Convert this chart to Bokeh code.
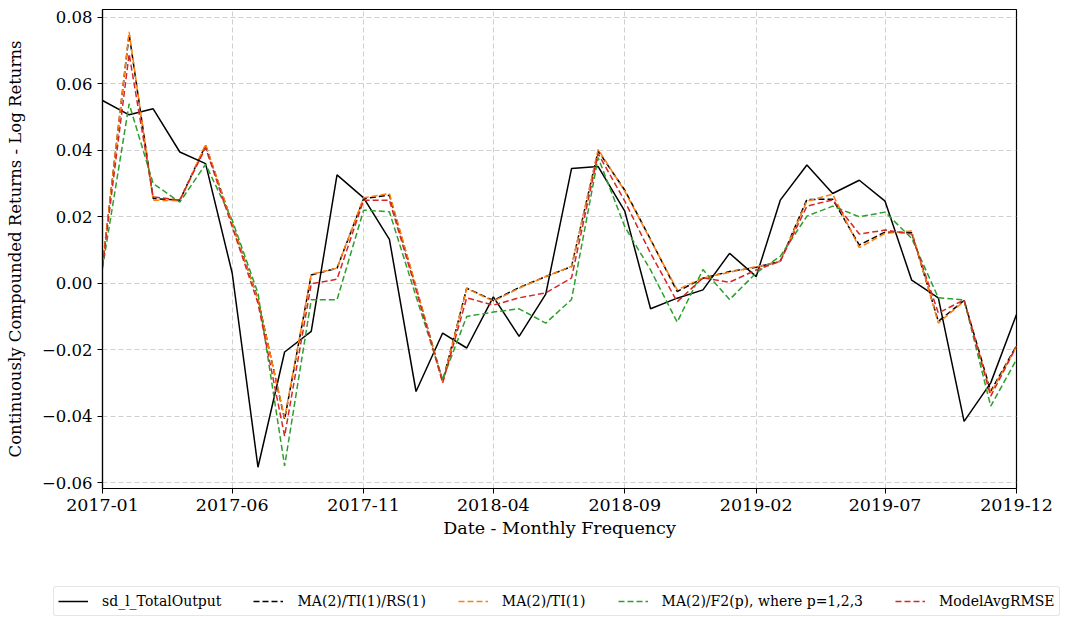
import pandas as pd
from bokeh.plotting import figure
from bokeh.layouts import column
from bokeh.models import (Range1d, FixedTicker, DatetimeTickFormatter, CustomJSTickFormatter,
                          Legend, LegendItem)
from bokeh.embed import file_html
from bokeh.resources import INLINE

# ---------------- data ----------------
months = pd.date_range("2017-01-01", periods=36, freq="MS")
x_tick_labels = ["2017-01", "2017-06", "2017-11", "2018-04", "2018-09", "2019-02", "2019-07", "2019-12"]
y_ticks = [-0.06, -0.04, -0.02, 0.0, 0.02, 0.04, 0.06, 0.08]

sd_l_total_output = [0.055, 0.0507, 0.0525, 0.0395, 0.036, 0.003, -0.0554, -0.0207, -0.0145, 0.0326,
                     0.0257, 0.0132, -0.0326, -0.015, -0.0195, -0.0041, -0.016, -0.0033, 0.0345, 0.0351,
                     0.0217, -0.0077, -0.0045, -0.002, 0.009, 0.002, 0.025, 0.0356, 0.027, 0.031,
                     0.0247, 0.0009, -0.0044, -0.0416, -0.030, -0.0094]

ma2_ti1_rs1 = [0.0055, 0.075, 0.0255, 0.025, 0.0415, 0.018, -0.0048, -0.041, 0.0025, 0.0045,
               0.0255, 0.0265, -0.0012, -0.0295, -0.0015, -0.0052, -0.0013, 0.002, 0.005, 0.0398,
               0.028, 0.0132, -0.0025, 0.0015, 0.0035, 0.0048, 0.0066, 0.0252, 0.0253, 0.0115,
               0.0154, 0.0152, -0.0115, -0.0052, -0.0325, -0.0188]

ma2_ti1 = [0.0055, 0.0757, 0.025, 0.0248, 0.0418, 0.018, -0.005, -0.0406, 0.0027, 0.0045,
           0.0257, 0.027, -0.001, -0.0298, -0.0016, -0.0054, -0.0015, 0.002, 0.0051, 0.0403,
           0.0277, 0.013, -0.002, 0.0016, 0.0033, 0.005, 0.0066, 0.0247, 0.0268, 0.0107,
           0.015, 0.0157, -0.012, -0.0054, -0.033, -0.019]

ma2_f2p = [0.0045, 0.054, 0.030, 0.0244, 0.0358, 0.019, -0.003, -0.055, -0.005, -0.005,
           0.022, 0.0215, -0.004, -0.029, -0.010, -0.0087, -0.0077, -0.012, -0.0049, 0.0378,
           0.017, 0.004, -0.0117, 0.0041, -0.0049, 0.0031, 0.0081, 0.0202, 0.0232, 0.020,
           0.0214, 0.0135, -0.0044, -0.005, -0.037, -0.023]

model_avg_rmse = [0.005, 0.069, 0.026, 0.025, 0.0408, 0.017, -0.006, -0.046, -0.0002, 0.0012,
                  0.025, 0.025, -0.002, -0.030, -0.0044, -0.0066, -0.0044, -0.0029, 0.0016, 0.039,
                  0.0247, 0.009, -0.0056, 0.0016, 0.0003, 0.004, 0.0066, 0.0232, 0.0251, 0.0148,
                  0.016, 0.0148, -0.009, -0.005, -0.034, -0.019]

series_labels = ["sd_l_TotalOutput", "MA(2)/TI(1)/RS(1)", "MA(2)/TI(1)",
                 "MA(2)/F2(p), where p=1,2,3", "ModelAvgRMSE"]
series_values = [sd_l_total_output, ma2_ti1_rs1, ma2_ti1, ma2_f2p, model_avg_rmse]
series_colors = ["black", "black", "#ff7f0e", "#2ca02c", "#d62728"]
series_dash = ["solid", "6 3", "6 3", "6 3", "6 3"]

# ---------------- main figure ----------------
FONT = "DejaVu Serif"
tick_dates = pd.to_datetime(x_tick_labels)
tick_ms = [t.value / 1e6 for t in tick_dates]

W = 1062
p = figure(width=W, height=545, x_axis_type="datetime", output_backend="svg",
           toolbar_location=None, min_border_left=102, min_border_right=W - 1016,
           min_border_top=9, min_border_bottom=57)
p.frame_align = False
p.x_range = Range1d(start=tick_dates[0], end=tick_dates[-1])
p.y_range = Range1d(start=-0.0618, end=0.0824)

p.outline_line_color = "black"
p.outline_line_width = 1.2
p.outline_line_alpha = 1.0
p.background_fill_color = "white"
p.border_fill_color = "white"

for vals, col, dash in zip(series_values, series_colors, series_dash):
    p.line(months, vals, line_color=col, line_width=1.5, line_dash=dash)

p.xaxis.ticker = FixedTicker(ticks=tick_ms)
fmt = "%Y-%m"
p.xaxis.formatter = DatetimeTickFormatter(milliseconds=fmt, seconds=fmt, minsec=fmt, minutes=fmt,
                                          hourmin=fmt, hours=fmt, days=fmt, months=fmt, years=fmt)
p.yaxis.ticker = FixedTicker(ticks=y_ticks)
p.yaxis.formatter = CustomJSTickFormatter(
    code="return (tick < -1e-9 ? '\u2212' : '') + Math.abs(tick).toFixed(2);")

for ax in (p.xaxis, p.yaxis):
    ax.axis_line_color = "black"
    ax.axis_line_width = 1.2
    ax.major_tick_line_color = "black"
    ax.major_tick_in = 0
    ax.major_tick_out = 5
    ax.minor_tick_line_color = None
    ax.major_label_text_font = FONT
    ax.major_label_text_color = "black"
    ax.axis_label_text_font = FONT
    ax.axis_label_text_font_style = "normal"
    ax.axis_label_text_color = "black"

p.xaxis.major_label_text_font_size = "17.5px"
p.yaxis.major_label_text_font_size = "16.5px"
p.xaxis.axis_label = "Date - Monthly Frequency"
p.xaxis.axis_label_text_font_size = "17.5px"
p.xaxis.major_label_standoff = 5
p.xaxis.axis_label_standoff = 4
p.yaxis.axis_label = "Continuously Compounded Returns - Log Returns"
p.yaxis.axis_label_text_font_size = "16.5px"
p.yaxis.major_label_standoff = 5
p.yaxis.axis_label_standoff = 14

for g in (p.xgrid, p.ygrid):
    g.grid_line_color = "#cfcfcf"
    g.grid_line_dash = "5 3"
    g.grid_line_width = 1

# ---------------- legend strip (separate figure; its lines lie outside its y range) ----------------
q = figure(width=W, height=72, x_axis_type="datetime", output_backend="svg",
           toolbar_location=None, x_axis_location=None, y_axis_location=None,
           min_border_left=0, min_border_right=0, min_border_top=0, min_border_bottom=0)
q.frame_align = False
q.x_range = Range1d(start=tick_dates[0], end=tick_dates[-1])
q.y_range = Range1d(start=10, end=11)
q.outline_line_color = None
q.xgrid.visible = False
q.ygrid.visible = False
q.background_fill_color = "white"
q.border_fill_color = "white"

legend_renderers = []
for vals, col, dash in zip(series_values, series_colors, series_dash):
    legend_renderers.append(q.line(months, vals, line_color=col, line_width=1.5, line_dash=dash))

items = [LegendItem(label=lab, renderers=[r]) for lab, r in zip(series_labels, legend_renderers)]
legend = Legend(items=items, orientation="horizontal", location=(53, 1))
legend.label_text_font = FONT
legend.label_text_font_size = "14px"
legend.label_text_color = "black"
legend.glyph_width = 30
legend.label_standoff = 14
legend.spacing = 32
legend.padding = 4
legend.margin = 0
legend.border_line_color = "#cccccc"
legend.border_line_width = 1
legend.border_radius = 3
legend.background_fill_color = "white"
legend.background_fill_alpha = 1.0
q.add_layout(legend, "center")

layout = column(p, q, spacing=0)
open("out.html", "w").write(file_html(layout, INLINE))
